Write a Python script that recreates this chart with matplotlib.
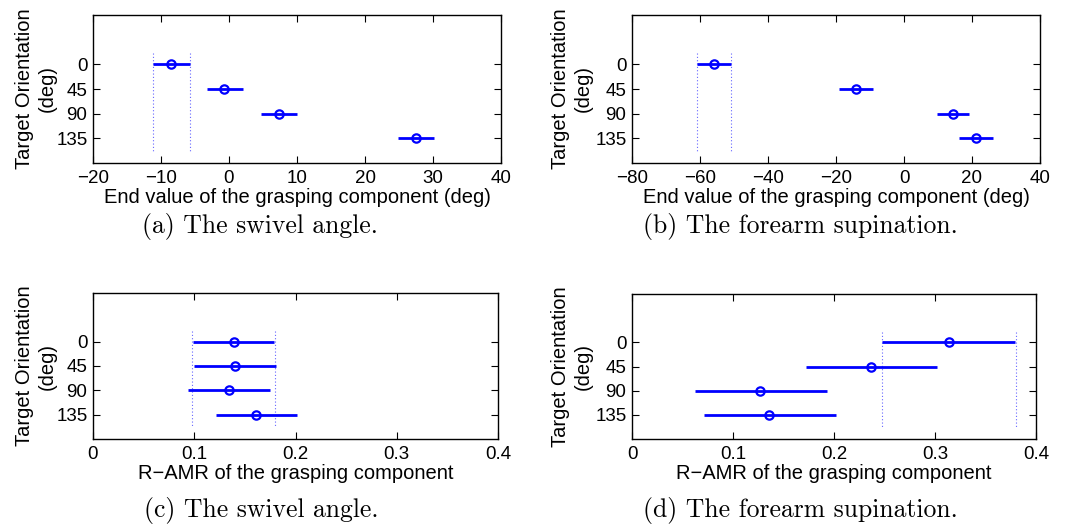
import matplotlib
matplotlib.use("Agg")
import matplotlib.pyplot as plt
import numpy as np

W, H = 1066, 527
plt.rcParams['font.family'] = ['Liberation Sans', 'DejaVu Sans']

orientations = [0, 45, 90, 135]
tick_labels = ['0', '45', '90', '135']

# (a) swivel angle end value (deg)
a_mean = [-8.5, -0.7, 7.35, 27.5]
a_lo = [-11.2, -3.3, 4.75, 24.9]
a_hi = [-5.8, 2.0, 9.95, 30.1]
a_band = [-11.2, -5.8]

# (b) forearm supination end value (deg)
b_mean = [-55.9, -14.2, 14.4, 21.1]
b_lo = [-60.8, -19.0, 9.6, 16.3]
b_hi = [-51.0, -9.2, 19.2, 26.1]
b_band = [-60.8, -50.8]

# (c) swivel angle R-AMR
c_mean = [0.139, 0.140, 0.134, 0.161]
c_lo = [0.099, 0.100, 0.094, 0.121]
c_hi = [0.179, 0.181, 0.175, 0.2015]
c_band = [0.098, 0.180]

# (d) forearm supination R-AMR
d_mean = [0.314, 0.237, 0.127, 0.136]
d_lo = [0.248, 0.172, 0.062, 0.071]
d_hi = [0.379, 0.302, 0.193, 0.2015]
d_band = [0.248, 0.380]

panels = [
    dict(mean=a_mean, lo=a_lo, hi=a_hi, band=a_band, xlim=(-20, 40), xticks=[-20, -10, 0, 10, 20, 30, 40],
         xticklabels=None, xlabel='End value of the grasping component (deg)', caption='(a) The swivel angle.',
         box=(93, 15, 501, 163), cap=(260, 227), ylx=-0.088),
    dict(mean=b_mean, lo=b_lo, hi=b_hi, band=b_band, xlim=(-80, 40), xticks=[-80, -60, -40, -20, 0, 20, 40],
         xticklabels=None, xlabel='End value of the grasping component (deg)', caption='(b) The forearm supination.',
         box=(632, 15, 1040, 163), cap=(800, 227), ylx=-0.095),
    dict(mean=c_mean, lo=c_lo, hi=c_hi, band=c_band, xlim=(0, 0.4), xticks=[0, 0.1, 0.2, 0.3, 0.4],
         xticklabels=['0', '0.1', '0.2', '0.3', '0.4'], xlabel='R\u2212AMR of the grasping component',
         caption='(c) The swivel angle.', box=(93, 293, 498, 439), cap=(261, 511), ylx=-0.089),
    dict(mean=d_mean, lo=d_lo, hi=d_hi, band=d_band, xlim=(0, 0.4), xticks=[0, 0.1, 0.2, 0.3, 0.4],
         xticklabels=['0', '0.1', '0.2', '0.3', '0.4'], xlabel='R\u2212AMR of the grasping component',
         caption='(d) The forearm supination.', box=(632, 294, 1036, 439), cap=(800, 511), ylx=-0.096),
]

fig = plt.figure(figsize=(W / 100, H / 100), dpi=100)
for p in panels:
    l, t, r, b = p['box']
    ax = fig.add_axes([l / W, 1 - b / H, (r - l) / W, (b - t) / H])
    mean = np.array(p['mean'])
    lo = np.array(p['lo'])
    hi = np.array(p['hi'])
    y = np.array(orientations)
    ax.hlines(y, lo, hi, color='#0000ff', lw=2.0, zorder=3)
    ax.plot(mean, y, 'o', mfc='none', mec='#0000ff', mew=1.6, ms=6, zorder=4)
    for xv in p['band']:
        ax.plot([xv, xv], [-20, 158], color='#4040ff', lw=0.8, ls=(0, (1, 2)), alpha=0.8, zorder=2)
    ax.set_xlim(*p['xlim'])
    ax.set_ylim(180, -90)
    ax.set_yticks(orientations)
    ax.set_yticklabels(tick_labels)
    ax.set_xticks(p['xticks'])
    if p['xticklabels']:
        ax.set_xticklabels(p['xticklabels'])
    ax.tick_params(direction='in', top=True, right=True, length=5, width=0.8, labelsize=13.5, pad=5)
    ax.tick_params(axis='y', pad=4)
    for s in ax.spines.values():
        s.set_linewidth(1.0)
    ax.set_xlabel(p['xlabel'], fontsize=14.5, labelpad=1)
    ax.set_ylabel('Target Orientation\n(deg)', fontsize=14.5, linespacing=1.25)
    ax.yaxis.set_label_coords(p['ylx'], 0.5)
    fig.text(p['cap'][0] / W, 1 - p['cap'][1] / H, p['caption'], family='cmr10', fontsize=18.5,
             ha='center', va='center')

fig.savefig('out.png', dpi=100)
